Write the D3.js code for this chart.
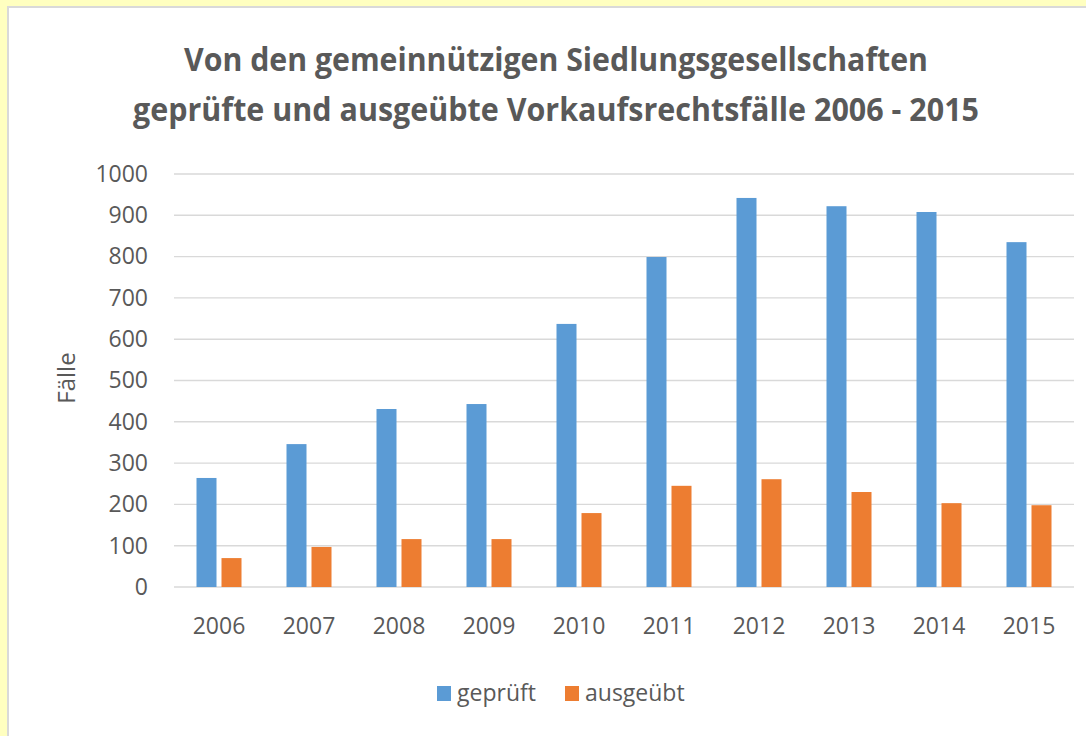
<!DOCTYPE html>
<html>
<head>
<meta charset="utf-8">
<script src="https://cdn.jsdelivr.net/npm/d3@7"></script>
<style>
  html, body { margin: 0; padding: 0; background: #ffffc0; }
  svg { display: block; }
  text { font-family: "Open Sans", "Liberation Sans", sans-serif; fill: #595959; }
</style>
</head>
<body>
<div id="chart"></div>
<script>
// data
var years = ["2006", "2007", "2008", "2009", "2010", "2011", "2012", "2013", "2014", "2015"];
var seriesNames = ["geprüft", "ausgeübt"];
var geprueft = [264, 346, 431, 443, 637, 799, 942, 922, 908, 835];
var ausgeuebt = [70, 97, 116, 116, 179, 245, 261, 230, 203, 198];
var yTicks = [0, 100, 200, 300, 400, 500, 600, 700, 800, 900, 1000];
var titleLines = ["Von den gemeinnützigen Siedlungsgesellschaften",
                  "geprüfte und ausgeübte Vorkaufsrechtsfälle 2006 - 2015"];

var colors = ["#5b9bd5", "#ed7d31"];
var width = 1086, height = 736;

var svg = d3.select("#chart").append("svg")
    .attr("width", width)
    .attr("height", height);

// yellow page + white chart box with grey border
svg.append("rect").attr("x", 0).attr("y", 0).attr("width", width).attr("height", height)
    .style("fill", "#ffffc0");
svg.append("rect").attr("x", 8).attr("y", 7).attr("width", 1200).attr("height", 900)
    .style("fill", "#fff").style("stroke", "#d9d9d9").style("stroke-width", 2);

// title, two lines
var titleWidths = [744, 846];
svg.selectAll(".title")
    .data(titleLines)
    .enter().append("text")
    .attr("class", "title")
    .attr("x", 556)
    .attr("y", function (d, i) { return 71 + i * 50; })
    .attr("text-anchor", "middle")
    .attr("textLength", function (d, i) { return titleWidths[i]; })
    .attr("lengthAdjust", "spacingAndGlyphs")
    .style("font-size", "33px")
    .style("font-weight", "bold")
    .text(function (d) { return d; });

// scales
var x = d3.scaleBand().domain(years).range([174, 1074]);
var xSub = d3.scaleBand().domain(seriesNames).range([22.5, 67.5]).paddingInner(0.2);
var y = d3.scaleLinear().domain([0, 1000]).range([587, 174]);

// gridlines
svg.append("g")
    .selectAll("line")
    .data(yTicks)
    .enter().append("line")
    .attr("x1", 174)
    .attr("x2", 1074)
    .attr("y1", function (d) { return y(d); })
    .attr("y2", function (d) { return y(d); })
    .style("stroke", "#d9d9d9")
    .style("stroke-width", 1.4);

// y axis labels (axis line hidden, only the text)
var yAxis = svg.append("g")
    .attr("transform", "translate(174,0)")
    .call(d3.axisLeft(y).tickValues(yTicks).tickFormat(d3.format("d")).tickSize(0).tickPadding(26));
yAxis.select(".domain").remove();
yAxis.selectAll("text").style("font-size", "23px").style("fill", "#595959")
    .style("font-family", "'Open Sans', sans-serif");

// x axis labels
var xAxis = svg.append("g")
    .attr("transform", "translate(0,587)")
    .call(d3.axisBottom(x).tickSize(0).tickPadding(31));
xAxis.select(".domain").remove();
xAxis.selectAll("text").style("font-size", "23px").style("fill", "#595959")
    .style("font-family", "'Open Sans', sans-serif");

// bars
var rows = years.map(function (yr, i) {
    return { year: yr, values: [geprueft[i], ausgeuebt[i]] };
});

var groups = svg.selectAll(".year")
    .data(rows)
    .enter().append("g")
    .attr("class", "year")
    .attr("transform", function (d) { return "translate(" + x(d.year) + ",0)"; });

groups.selectAll("rect")
    .data(function (d) {
        return d.values.map(function (v, k) { return { name: seriesNames[k], value: v, k: k }; });
    })
    .enter().append("rect")
    .attr("x", function (d) { return xSub(d.name); })
    .attr("width", xSub.bandwidth())
    .attr("y", function (d) { return y(d.value); })
    .attr("height", function (d) { return y(0) - y(d.value); })
    .style("fill", function (d) { return colors[d.k]; });

// y axis title
svg.append("text")
    .attr("transform", "translate(75,378) rotate(-90)")
    .attr("text-anchor", "middle")
    .style("font-size", "24px")
    .text("Fälle");

// legend
var legendX = [437, 565];
var legend = svg.selectAll(".legend")
    .data(seriesNames)
    .enter().append("g")
    .attr("class", "legend")
    .attr("transform", function (d, i) { return "translate(" + legendX[i] + ",686)"; });

legend.append("rect")
    .attr("width", 14)
    .attr("height", 15)
    .style("fill", function (d, i) { return colors[i]; });

legend.append("text")
    .attr("x", 20)
    .attr("y", 15)
    .style("font-size", "23px")
    .text(function (d) { return d; });
</script>
</body>
</html>
